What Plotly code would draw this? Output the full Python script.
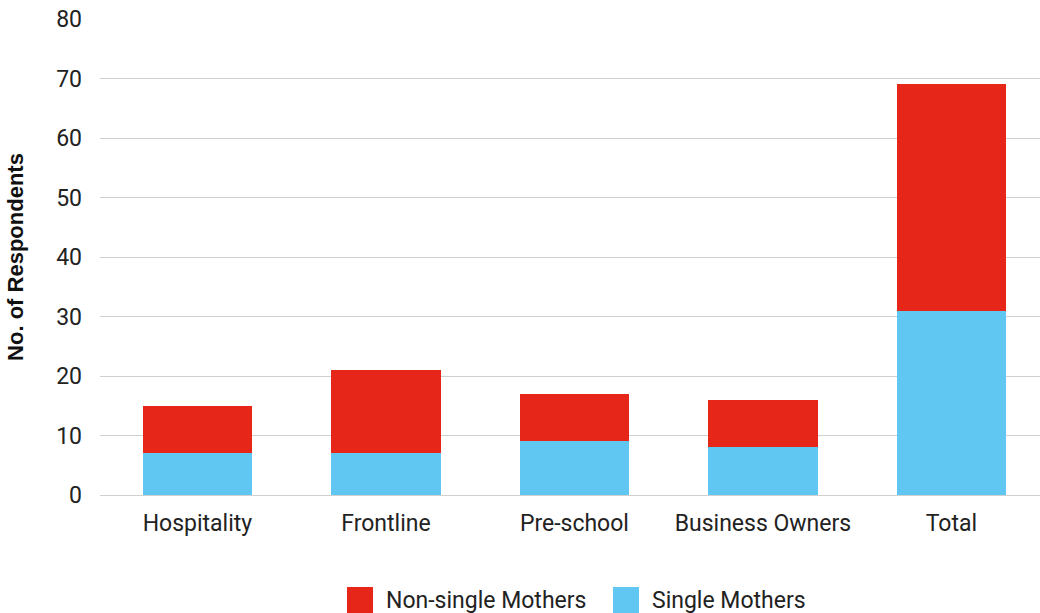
import plotly.graph_objects as go

categories = ["Hospitality", "Frontline", "Pre-school", "Business Owners", "Total"]
single_mothers = [7, 7, 9, 8, 31]
non_single_mothers = [8, 14, 8, 8, 38]
y_ticks = [0, 10, 20, 30, 40, 50, 60, 70, 80]

RED = "#E52619"
BLUE = "#5FC7F2"

W, H = 1040, 613
L, R, T, B = 100, 0, 19, 118

fig = go.Figure()
fig.add_trace(go.Bar(x=categories, y=single_mothers, name="Single Mothers",
                     marker=dict(color=BLUE, line=dict(width=0))))
fig.add_trace(go.Bar(x=categories, y=non_single_mothers, name="Non-single Mothers",
                     marker=dict(color=RED, line=dict(width=0))))

# manual legend (large square swatches as in the reference)
pw, ph = W - L - R, H - T - B
def px(x):
    return (x - L) / pw
def py(y):
    return (H - B - y) / ph

legend_items = [("Non-single Mothers", RED, 347), ("Single Mothers", BLUE, 613)]
for label, color, x0 in legend_items:
    fig.add_shape(type="rect", xref="paper", yref="paper",
                  x0=px(x0), x1=px(x0 + 26), y0=py(613), y1=py(587),
                  fillcolor=color, line=dict(width=0))
    fig.add_annotation(xref="paper", yref="paper", x=px(x0 + 37), y=py(600),
                       xanchor="left", yanchor="middle", text=label, showarrow=False,
                       font=dict(family="Roboto", size=23, color="#222222"))

fig.update_layout(
    width=W, height=H,
    barmode="stack", bargap=0.42,
    plot_bgcolor="white", paper_bgcolor="white",
    margin=dict(l=L, r=R, t=T, b=B),
    font=dict(family="Roboto", size=23, color="#222222"),
    showlegend=False,
)
fig.update_xaxes(showgrid=False, showline=False, ticks="", ticklabelstandoff=12,
                 range=[-0.517, 4.47], tickfont=dict(size=23))
fig.update_yaxes(range=[0, 80], tickvals=y_ticks, showgrid=True, gridcolor="#d0d0d0",
                 gridwidth=1, zeroline=True, zerolinecolor="#d0d0d0", zerolinewidth=1,
                 ticks="", ticklabelstandoff=17, tickfont=dict(size=23),
                 title=dict(text="<b>No. of Respondents</b>", standoff=26,
                            font=dict(family="Liberation Sans", size=22, color="#111111")))

fig.write_html("out.html")
